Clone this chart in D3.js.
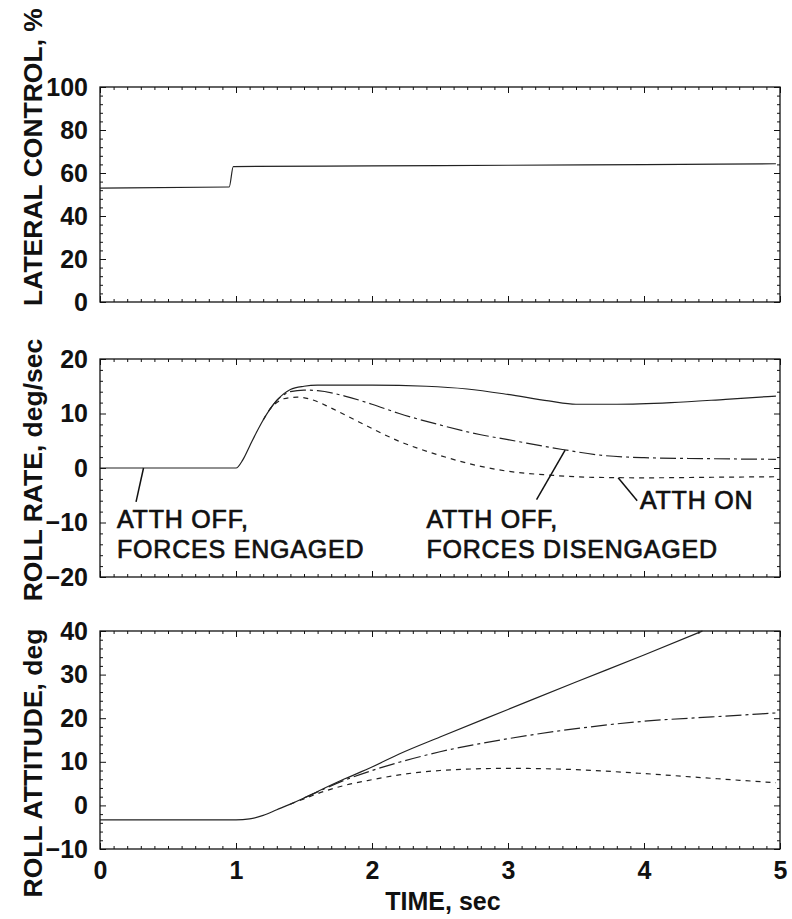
<!DOCTYPE html>
<html>
<head>
<meta charset="utf-8">
<script src="https://cdn.jsdelivr.net/npm/d3@7"></script>
<style>
  body { margin: 0; background: #fff; }
  svg { display: block; }
</style>
</head>
<body>
<svg id="chart" width="792" height="919"></svg>
<script>
// ---------- DATA ----------
const timeTicks = [0, 1, 2, 3, 4, 5];
const lateralTicks = [0, 20, 40, 60, 80, 100];
const rateTicks = [-20, -10, 0, 10, 20];
const attitudeTicks = [-10, 0, 10, 20, 30, 40];

// Lateral control, %  [time, value]
const lateralControl = [
  [0, 53], [0.95, 53.5], [0.98, 63], [2, 63.3], [3, 63.6], [4, 63.9], [4.97, 64.3]
];

// Roll rate, deg/sec
const rateEngaged = [ // ATTH OFF, forces engaged (solid)
  [0, 0], [1.0, 0], [1.05, 1.5], [1.1, 4], [1.15, 6.5], [1.2, 8.8], [1.25, 10.8],
  [1.3, 12.4], [1.35, 13.6], [1.4, 14.4], [1.5, 15], [1.6, 15.2], [2.0, 15.2],
  [2.4, 15.0], [2.7, 14.5], [3.0, 13.5], [3.3, 12.3], [3.5, 11.7], [3.8, 11.7],
  [4.2, 12.0], [4.6, 12.6], [4.97, 13.2]
];
const rateDisengaged = [ // ATTH OFF, forces disengaged (chain)
  [1.25, 10.8], [1.3, 12.4], [1.35, 13.4], [1.4, 14.0], [1.5, 14.3], [1.6, 14.2],
  [1.8, 13.2], [2.0, 11.7], [2.2, 10.0], [2.5, 7.9], [2.8, 6.1], [3.0, 5.2],
  [3.4, 3.4], [3.7, 2.3], [4.0, 1.9], [4.5, 1.7], [4.97, 1.6]
];
const rateAtthOn = [ // ATTH ON (dashed)
  [1.2, 8.8], [1.25, 10.8], [1.3, 12.0], [1.35, 12.7], [1.45, 13.0], [1.55, 12.6],
  [1.7, 11.0], [1.9, 8.5], [2.2, 4.9], [2.5, 2.3], [2.8, 0.3], [3.0, -0.6],
  [3.3, -1.3], [3.6, -1.7], [4.0, -1.8], [4.5, -1.7], [4.97, -1.6]
];

// Roll attitude, deg
const attEngaged = [
  [0, -3.3], [1.0, -3.3], [1.1, -3.1], [1.2, -2.3], [1.3, -1.0], [1.4, 0.3],
  [1.5, 1.7], [1.6, 3.2], [1.8, 6.1], [2.0, 8.8], [2.2, 11.8], [2.5, 15.7],
  [3.0, 22.0], [3.5, 28.3], [4.0, 34.5], [4.43, 40]
];
const attDisengaged = [
  [1.5, 1.7], [1.6, 3.1], [1.8, 5.8], [2.0, 8.0], [2.2, 9.9], [2.5, 12.3],
  [3.0, 15.3], [3.5, 17.6], [4.0, 19.3], [4.5, 20.3], [4.97, 21.2]
];
const attAtthOn = [
  [1.4, 0.3], [1.5, 1.5], [1.6, 2.7], [1.8, 4.6], [2.0, 5.9], [2.2, 7.0],
  [2.5, 8.0], [3.0, 8.5], [3.5, 8.2], [4.0, 7.3], [4.5, 6.2], [4.97, 5.2]
];

// Annotations in the roll-rate panel (data units)
const labelLines = [
  { lines: ["ATTH OFF,", "FORCES ENGAGED"], t: 0.125, v: [-11.1, -16.6] },
  { lines: ["ATTH OFF,", "FORCES DISENGAGED"], t: 2.4, v: [-11.1, -16.6] },
  { lines: ["ATTH ON"], t: 3.97, v: [-7.6] }
];
const leaders = [
  [[0.32, 0], [0.265, -6.2]],
  [[3.42, 3.3], [3.21, -5.8]],
  [[3.81, -1.8], [3.95, -6.0]]
];

// ---------- LAYOUT ----------
const svg = d3.select("#chart");
const X0 = 100, X1 = 780;
const x = d3.scaleLinear().domain([0, 5]).range([X0, X1]);
const FONT = "Liberation Sans, Arial, Helvetica, sans-serif";

const panels = [
  { domain: [0, 100], range: [302, 87], ticks: lateralTicks, minor: 4,
    title: "LATERAL CONTROL, %", titleY: 157,
    series: [{ d: lateralControl, dash: null }] },
  { domain: [-20, 20], range: [577, 359], ticks: rateTicks, minor: 2,
    title: "ROLL RATE, deg/sec", titleY: 470,
    series: [{ d: rateEngaged, dash: null }, { d: rateDisengaged, dash: "16,4,3,4" }, { d: rateAtthOn, dash: "5,5" }] },
  { domain: [-10, 40], range: [849, 631], ticks: attitudeTicks, minor: 2,
    title: "ROLL ATTITUDE, deg", titleY: 763, xLabels: true,
    series: [{ d: attEngaged, dash: null }, { d: attDisengaged, dash: "16,4,3,4" }, { d: attAtthOn, dash: "5,5" }] }
];

const ink = "#111";

panels.forEach((p, i) => {
  const y = d3.scaleLinear().domain(p.domain).range(p.range);
  const g = svg.append("g");
  const yTop = p.range[1], yBot = p.range[0];

  const minorX = d3.range(0, 50.5, 1).map(v => v / 10).filter(v => !timeTicks.includes(v));
  const minorY = d3.range(p.domain[0], p.domain[1] + 0.001, p.minor).filter(v => !p.ticks.includes(v));

  const styleAxis = sel => {
    sel.select(".domain").remove();
    sel.selectAll(".tick line").attr("stroke", ink).attr("stroke-width", 1);
  };
  const styleLabels = s => s.selectAll("text").attr("font-family", FONT)
      .attr("font-weight", "bold").attr("font-size", 25).attr("fill", ink);

  // bottom
  g.append("g").attr("transform", `translate(0,${yBot})`)
    .call(d3.axisBottom(x).tickValues(timeTicks).tickSizeInner(-6).tickSizeOuter(0).tickPadding(12)
      .tickFormat(p.xLabels ? d3.format("d") : ""))
    .call(styleAxis).call(styleLabels);
  g.append("g").attr("transform", `translate(0,${yBot})`)
    .call(d3.axisBottom(x).tickValues(minorX).tickSizeInner(-3).tickSizeOuter(0).tickFormat(""))
    .call(styleAxis);
  // top
  g.append("g").attr("transform", `translate(0,${yTop})`)
    .call(d3.axisTop(x).tickValues(timeTicks).tickSizeInner(-6).tickSizeOuter(0).tickFormat(""))
    .call(styleAxis);
  g.append("g").attr("transform", `translate(0,${yTop})`)
    .call(d3.axisTop(x).tickValues(minorX).tickSizeInner(-3).tickSizeOuter(0).tickFormat(""))
    .call(styleAxis);
  // left
  g.append("g").attr("transform", `translate(${X0},0)`)
    .call(d3.axisLeft(y).tickValues(p.ticks).tickSizeInner(-6).tickSizeOuter(0).tickPadding(12)
      .tickFormat(d => d < 0 ? "\u2212" + Math.abs(d) : String(d)))
    .call(styleAxis).call(styleLabels);
  g.append("g").attr("transform", `translate(${X0},0)`)
    .call(d3.axisLeft(y).tickValues(minorY).tickSizeInner(-3).tickSizeOuter(0).tickFormat(""))
    .call(styleAxis);
  // right
  g.append("g").attr("transform", `translate(${X1},0)`)
    .call(d3.axisRight(y).tickValues(p.ticks).tickSizeInner(-6).tickSizeOuter(0).tickFormat(""))
    .call(styleAxis);
  g.append("g").attr("transform", `translate(${X1},0)`)
    .call(d3.axisRight(y).tickValues(minorY).tickSizeInner(-3).tickSizeOuter(0).tickFormat(""))
    .call(styleAxis);

  // frame
  g.append("rect").attr("x", X0).attr("y", yTop).attr("width", X1 - X0).attr("height", yBot - yTop)
    .attr("fill", "none").attr("stroke", ink).attr("stroke-width", 1.3);

  // series
  const line = d3.line().x(d => x(d[0])).y(d => y(d[1])).curve(d3.curveMonotoneX);
  p.series.forEach(s => {
    g.append("path").datum(s.d).attr("d", line)
      .attr("fill", "none").attr("stroke", "#222").attr("stroke-width", 1.2)
      .attr("stroke-dasharray", s.dash);
  });

  // y title
  svg.append("text")
    .attr("transform", `translate(42,${p.titleY}) rotate(-90)`)
    .attr("text-anchor", "middle")
    .attr("font-family", FONT)
    .attr("font-weight", "bold").attr("font-size", 26.5).attr("fill", ink)
    .text(p.title);

  if (i === 1) {
    leaders.forEach(l => {
      g.append("line")
        .attr("x1", x(l[0][0])).attr("y1", y(l[0][1]))
        .attr("x2", x(l[1][0])).attr("y2", y(l[1][1]))
        .attr("stroke", ink).attr("stroke-width", 1.5);
    });
    labelLines.forEach(a => {
      a.lines.forEach((txt, k) => {
        g.append("text")
          .attr("x", x(a.t)).attr("y", y(a.v[k]))
          .attr("font-family", FONT)
          .attr("font-size", 25).attr("letter-spacing", 0.8).attr("fill", ink)
          .attr("stroke", ink).attr("stroke-width", 0.7)
          .text(txt);
      });
    });
  }
});

// x title
svg.append("text")
  .attr("x", x(2.5) + 3).attr("y", 910)
  .attr("text-anchor", "middle")
  .attr("font-family", FONT)
  .attr("font-weight", "bold").attr("font-size", 25).attr("fill", ink)
  .text("TIME, sec");
</script>
</body>
</html>
